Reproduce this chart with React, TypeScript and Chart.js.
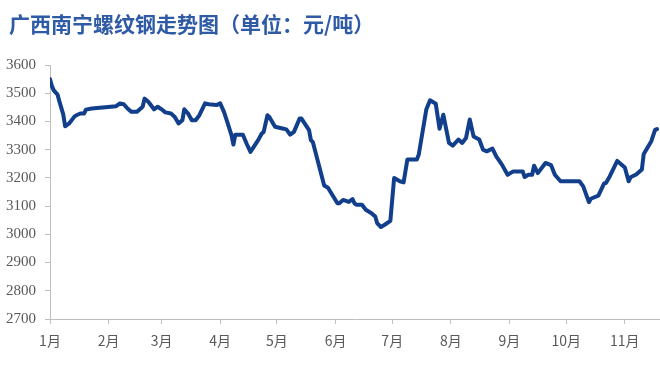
import React, { useEffect, useRef } from "react";
import { Chart, registerables } from "chart.js";

Chart.register(...registerables);

const chartTitle = "广西南宁螺纹钢走势图（单位：元/吨）";

const monthLabels = ["1月", "2月", "3月", "4月", "5月", "6月", "7月", "8月", "9月", "10月", "11月"];
const monthStartDays = [0, 31, 59, 90, 120, 151, 181, 212, 243, 273, 304];
const monthCum = [0, 31, 59, 90, 120, 151, 181, 212, 243, 273, 304, 334];

const dates = [
  "01-01", "01-02", "01-03", "01-05", "01-06", "01-08", "01-09", "01-11", "01-14", "01-15",
  "01-17", "01-19", "01-20", "01-23", "02-05", "02-07", "02-09", "02-11", "02-13", "02-16",
  "02-19", "02-20", "02-22", "02-25", "02-27", "03-01", "03-03", "03-06", "03-08", "03-10",
  "03-12", "03-13", "03-15", "03-17", "03-19", "03-21", "03-24", "03-26", "03-30", "04-01",
  "04-03", "04-05", "04-07", "04-08", "04-09", "04-13", "04-15", "04-17", "04-21", "04-23",
  "04-24", "04-26", "04-27", "04-30", "05-04", "05-06", "05-08", "05-10", "05-13", "05-14",
  "05-18", "05-19", "05-20", "05-26", "05-28", "06-02", "06-03", "06-05", "06-08", "06-10",
  "06-11", "06-12", "06-15", "06-17", "06-20", "06-22", "06-23", "06-25", "06-27", "06-30",
  "07-02", "07-05", "07-07", "07-09", "07-14", "07-15", "07-19", "07-21", "07-24", "07-26",
  "07-28", "07-31", "08-02", "08-05", "08-07", "08-09", "08-11", "08-13", "08-16", "08-18",
  "08-20", "08-23", "08-25", "08-28", "08-31", "09-03", "09-08", "09-09", "09-11", "09-13",
  "09-14", "09-16", "09-20", "09-23", "09-25", "09-28", "10-08", "10-10", "10-13", "10-14",
  "10-18", "10-21", "10-22", "10-24", "10-28", "11-01", "11-03", "11-04", "11-07", "11-10",
  "11-11", "11-15", "11-17", "11-18",
];

const prices = [
  3550, 3525, 3510, 3495, 3470, 3425, 3383, 3392, 3418, 3422,
  3428, 3428, 3442, 3446, 3454, 3464, 3461, 3446, 3434, 3434,
  3452, 3481, 3470, 3443, 3452, 3443, 3432, 3428, 3416, 3393,
  3404, 3443, 3428, 3404, 3404, 3422, 3464, 3461, 3458, 3464,
  3434, 3393, 3351, 3318, 3353, 3353, 3321, 3292, 3333, 3357,
  3363, 3422, 3416, 3381, 3375, 3372, 3353, 3363, 3410, 3410,
  3369, 3333, 3327, 3173, 3165, 3110, 3110, 3122, 3115, 3125,
  3110, 3105, 3105, 3087, 3075, 3063, 3040, 3026, 3034, 3048,
  3200, 3188, 3184, 3265, 3265, 3282, 3442, 3475, 3463, 3374,
  3424, 3324, 3314, 3336, 3324, 3341, 3407, 3347, 3336, 3300,
  3294, 3304, 3276, 3247, 3211, 3223, 3223, 3203, 3211, 3211,
  3243, 3217, 3253, 3245, 3211, 3188, 3188, 3170, 3114, 3126,
  3137, 3180, 3182, 3205, 3260, 3237, 3188, 3202, 3212, 3230,
  3285, 3330, 3370, 3373,
];

const yMin = 2700;
const yMax = 3600;
const yStep = 100;
const xMaxDay = 322.6;

function dayOfYear(md: string): number {
  const [m, d] = md.split("-").map(Number);
  return monthCum[m - 1] + d - 1;
}

const titlePlugin = {
  id: "customTitle",
  afterDraw(chart: any) {
    const ctx = chart.ctx;
    ctx.save();
    ctx.font = 'bold 21px "Noto Sans CJK SC"';
    ctx.fillStyle = "#2E5AA6";
    ctx.textBaseline = "middle";
    ctx.textAlign = "left";
    ctx.fillText(chartTitle, 9, 24);
    ctx.restore();
  },
};

export default function App() {
  const canvasRef = useRef<HTMLCanvasElement | null>(null);

  useEffect(() => {
    if (!canvasRef.current) return;
    const points = dates.map((d, i) => ({ x: dayOfYear(d), y: prices[i] }));
    const axisColor = "#BFBFBF";
    const labelColor = "#595959";
    const chart = new Chart(canvasRef.current, {
      type: "line",
      data: {
        datasets: [
          {
            data: points,
            borderColor: "#123F8C",
            borderWidth: 4,
            pointRadius: 0,
            tension: 0,
            borderJoinStyle: "round",
            borderCapStyle: "round",
            fill: false,
          },
        ],
      },
      options: {
        animation: false,
        responsive: false,
        maintainAspectRatio: false,
        layout: { padding: { top: 65, left: 0, right: 0, bottom: 0 } },
        plugins: {
          legend: { display: false },
          tooltip: { enabled: false },
          title: { display: false },
        },
        scales: {
          x: {
            type: "linear",
            min: 0,
            max: xMaxDay,
            afterFit: (s: any) => {
              s.height = 49;
            },
            afterBuildTicks: (s: any) => {
              s.ticks = monthStartDays.map((v) => ({ value: v }));
            },
            grid: {
              display: true,
              drawOnChartArea: false,
              drawTicks: true,
              tickLength: 5,
              color: axisColor,
            },
            border: { display: true, color: axisColor, width: 1 },
            ticks: {
              autoSkip: false,
              maxRotation: 0,
              minRotation: 0,
              padding: 8,
              color: labelColor,
              font: { family: '"Noto Sans CJK SC"', size: 14 },
              callback: (_v: any, i: number) => monthLabels[i],
            },
          },
          y: {
            type: "linear",
            min: yMin,
            max: yMax,
            afterFit: (s: any) => {
              s.width = 50;
            },
            grid: {
              display: true,
              drawOnChartArea: false,
              drawTicks: true,
              tickLength: 5,
              color: axisColor,
            },
            border: { display: true, color: axisColor, width: 1 },
            ticks: {
              stepSize: yStep,
              padding: 9,
              color: labelColor,
              font: { family: '"Liberation Serif"', size: 15 },
              callback: (v: any) => String(v),
            },
          },
        },
      },
      plugins: [titlePlugin],
    });
    return () => chart.destroy();
  }, []);

  return (
    <div style={{ position: "fixed", left: 0, top: 0, width: 660, height: 368, background: "#fff" }}>
      <canvas ref={canvasRef} width={660} height={368} style={{ width: 660, height: 368, display: "block" }} />
    </div>
  );
}
